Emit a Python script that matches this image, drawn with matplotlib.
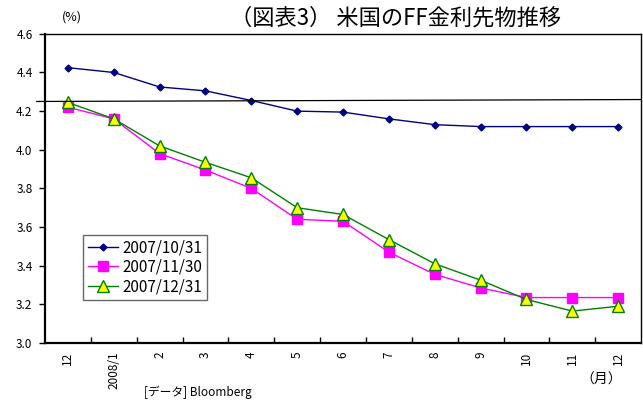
import matplotlib
matplotlib.use('Agg')
import matplotlib.pyplot as plt
import numpy as np

plt.rcParams['font.family'] = ['Noto Sans CJK JP', 'DejaVu Sans']

# FF金利先物（各時点の限月別）
months = ['12', '2008/1', '2', '3', '4', '5', '6', '7', '8', '9', '10', '11', '12']
ff_1031 = [4.425, 4.40, 4.325, 4.305, 4.255, 4.20, 4.195, 4.16, 4.13, 4.12, 4.12, 4.12, 4.12]
ff_1130 = [4.22, 4.16, 3.98, 3.895, 3.80, 3.64, 3.63, 3.47, 3.355, 3.285, 3.235, 3.235, 3.235]
ff_1231 = [4.245, 4.16, 4.02, 3.935, 3.855, 3.70, 3.665, 3.535, 3.41, 3.325, 3.225, 3.165, 3.19]
series_names = ['2007/10/31', '2007/11/30', '2007/12/31']
# 現行FF金利の目安線（左端・右端）
ref_line = [4.25, 4.26]

x = np.arange(len(months))

fig = plt.figure(figsize=(6.43, 4.03), dpi=100)
ax = fig.add_axes([0.070, 0.149, 0.927, 0.767])

ax.plot(x, ff_1031, color='#000080', marker='D', markersize=3.5, lw=1.0,
        label=series_names[0])
ax.plot(x, ff_1130, color='#FF00FF', marker='s', markersize=7.5, lw=1.0,
        markeredgecolor='#FF00FF', label=series_names[1])
ax.plot(x, ff_1231, color='#008000', marker='^', markersize=8, lw=1.0,
        markerfacecolor='#FFFF00', markeredgecolor='#008000', label=series_names[2])

ax.plot([-0.68, 12.5], ref_line, color='black', lw=0.9, clip_on=False)

ax.set_xlim(-0.5, 12.5)
ax.set_ylim(3.0, 4.6)
ax.set_yticks(np.arange(3.0, 4.61, 0.2))
ax.set_yticklabels([f'{v:.1f}' for v in np.arange(3.0, 4.61, 0.2)], fontsize=8.5)
ax.tick_params(axis='y', direction='out', length=4, width=1, pad=5)

# 月ラベルは中央、目盛線は境界に
ax.set_xticks(x)
ax.set_xticklabels(months, rotation=90, fontsize=8.5)
ax.tick_params(axis='x', which='major', length=0, pad=6)
ax.set_xticks(np.arange(0.5, 12, 1), minor=True)
ax.tick_params(axis='x', which='minor', direction='in', length=4, width=1)

for side in ['top', 'right']:
    ax.spines[side].set_linewidth(1.0)
for side in ['left', 'bottom']:
    ax.spines[side].set_linewidth(1.6)

leg = ax.legend(loc='lower left', bbox_to_anchor=(0.064, 0.14), fontsize=11,
                frameon=True, fancybox=False, edgecolor='#404040',
                handlelength=2.0, handletextpad=0.3, borderpad=0.3,
                labelspacing=0.15, borderaxespad=0)
leg.get_frame().set_linewidth(1.0)

fig.text(0.615, 0.955, '（図表3） 米国のFF金利先物推移', fontsize=16,
         ha='center', va='center')
fig.text(0.112, 0.958, '(%)', fontsize=9, ha='center', va='center')
fig.text(0.224, 0.026, '[データ] Bloomberg', fontsize=8.5, ha='left', va='center')
fig.text(0.935, 0.057, '（月）', fontsize=10, ha='center', va='center')

fig.savefig('out.png', dpi=100)
